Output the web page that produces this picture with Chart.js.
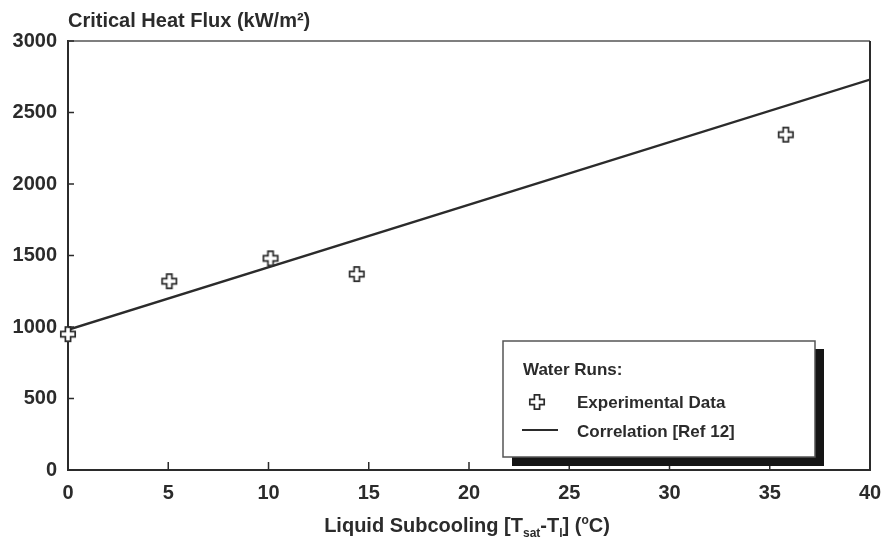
<!DOCTYPE html>
<html>
<head>
<meta charset="utf-8">
<script src="https://cdn.jsdelivr.net/npm/chart.js@4.4.0/dist/chart.umd.min.js"></script>
<style>
  html, body { margin: 0; padding: 0; background: #ffffff; }
  #wrap { width: 882px; height: 546px; position: relative; }
</style>
</head>
<body>
<div id="wrap"><canvas id="c"></canvas></div>
<script>
// ---- data ----
const subcooling = [0, 5.05, 10.1, 14.4, 35.8];       // Liquid subcooling (°C)
const chfMeasured = [950, 1320, 1480, 1370, 2345];    // Experimental CHF (kW/m²)
const corrSubcooling = [0, 40];                       // correlation line ends
const corrCHF = [980, 2730];
const xTickValues = [0, 5, 10, 15, 20, 25, 30, 35, 40];
const yTickValues = [0, 500, 1000, 1500, 2000, 2500, 3000];
const yTitle = 'Critical Heat Flux (kW/m²)';
const legendTitle = 'Water Runs:';
const seriesNames = ['Experimental Data', 'Correlation [Ref 12]'];

const INK = '#2b2b2b';
const FONT = "'Liberation Sans', Arial, sans-serif";

// hollow plus marker
function makePlus() {
  const s = 18, c = document.createElement('canvas');
  c.width = s; c.height = s;
  const g = c.getContext('2d');
  const a = 2.6, L = 7.2, m = s / 2;
  g.beginPath();
  g.moveTo(m - a, m - L); g.lineTo(m + a, m - L); g.lineTo(m + a, m - a);
  g.lineTo(m + L, m - a); g.lineTo(m + L, m + a); g.lineTo(m + a, m + a);
  g.lineTo(m + a, m + L); g.lineTo(m - a, m + L); g.lineTo(m - a, m + a);
  g.lineTo(m - L, m + a); g.lineTo(m - L, m - a); g.lineTo(m - a, m - a);
  g.closePath();
  g.fillStyle = '#ffffff'; g.fill();
  g.lineWidth = 1.7; g.strokeStyle = INK; g.stroke();
  return c;
}
const plusImg = makePlus();

const decor = {
  id: 'decor',
  afterDatasetsDraw(chart) {
    const ctx = chart.ctx, ca = chart.chartArea;
    const xs = chart.scales.x, ys = chart.scales.y;
    ctx.save();
    // top and right frame
    ctx.strokeStyle = '#555'; ctx.lineWidth = 1.5;
    ctx.beginPath();
    ctx.moveTo(ca.left, ca.top); ctx.lineTo(ca.right, ca.top);
    ctx.stroke();
    ctx.strokeStyle = INK; ctx.lineWidth = 2;
    ctx.beginPath();
    ctx.moveTo(ca.right, ca.top); ctx.lineTo(ca.right, ca.bottom);
    ctx.stroke();
    // inward ticks
    ctx.strokeStyle = INK; ctx.lineWidth = 1.5;
    ctx.beginPath();
    xTickValues.forEach(v => {
      const px = xs.getPixelForValue(v);
      ctx.moveTo(px, ca.bottom); ctx.lineTo(px, ca.bottom - 8);
    });
    yTickValues.forEach(v => {
      const py = ys.getPixelForValue(v);
      ctx.moveTo(ca.left, py); ctx.lineTo(ca.left + 6, py);
    });
    ctx.stroke();

    // legend box with shadow
    const L = 503, T = 341, R = 815, B = 457;
    ctx.fillStyle = '#151515';
    ctx.fillRect(815, 349, 9, 117);
    ctx.fillRect(512, 456, 312, 10);
    ctx.fillStyle = '#ffffff';
    ctx.fillRect(L, T, R - L, B - T);
    ctx.strokeStyle = '#555'; ctx.lineWidth = 1.5;
    ctx.strokeRect(L, T, R - L, B - T);
    ctx.fillStyle = INK;
    ctx.textBaseline = 'alphabetic'; ctx.textAlign = 'left';
    ctx.font = 'bold 17px ' + FONT;
    ctx.fillText(legendTitle, 523, 375);
    ctx.drawImage(plusImg, 537 - 9, 402 - 9);
    ctx.fillText(seriesNames[0], 577, 408);
    ctx.strokeStyle = INK; ctx.lineWidth = 2;
    ctx.beginPath(); ctx.moveTo(522, 430); ctx.lineTo(558, 430); ctx.stroke();
    ctx.fillText(seriesNames[1], 577, 437);

    // y title
    ctx.font = 'bold 20px ' + FONT;
    ctx.fillText(yTitle, ca.left, 27);

    // x title with subscripts
    const parts = [
      ['Liquid Subcooling [T', 20, 0],
      ['sat', 12, 5],
      ['-T', 20, 0],
      ['l', 12, 5],
      ['] (', 20, 0],
      ['o', 12, -8],
      ['C)', 20, 0]
    ];
    let total = 0;
    parts.forEach(p => { ctx.font = 'bold ' + p[1] + 'px ' + FONT; total += ctx.measureText(p[0]).width; });
    let x = 467 - total / 2;
    parts.forEach(p => {
      ctx.font = 'bold ' + p[1] + 'px ' + FONT;
      ctx.fillText(p[0], x, 532 + p[2]);
      x += ctx.measureText(p[0]).width;
    });
    ctx.restore();
  }
};

new Chart(document.getElementById('c'), {
  type: 'scatter',
  data: {
    datasets: [
      {
        label: seriesNames[1],
        data: corrSubcooling.map((v, i) => ({ x: v, y: corrCHF[i] })),
        showLine: true,
        borderColor: INK,
        borderWidth: 2.4,
        pointRadius: 0,
        fill: false,
        order: 2
      },
      {
        label: seriesNames[0],
        data: subcooling.map((v, i) => ({ x: v, y: chfMeasured[i] })),
        pointStyle: plusImg,
        pointRadius: 8,
        clip: false,
        order: 1
      }
    ]
  },
  options: {
    responsive: true,
    maintainAspectRatio: false,
    animation: false,
    layout: { padding: { top: 41, right: 0, left: 0, bottom: 0 } },
    plugins: { legend: { display: false }, tooltip: { enabled: false }, title: { display: false } },
    scales: {
      x: {
        type: 'linear', min: 0, max: 40,
        afterBuildTicks: s => { s.ticks = xTickValues.map(v => ({ value: v })); },
        afterFit: s => { s.height = 76; s.paddingRight = 12; s.paddingLeft = 0; },
        grid: { display: false, drawTicks: false },
        border: { display: true, color: INK, width: 2 },
        ticks: { color: INK, padding: 11, font: { family: FONT, size: 20, weight: 'bold' }, maxRotation: 0,
                 callback: v => String(v) }
      },
      y: {
        type: 'linear', min: 0, max: 3000,
        afterBuildTicks: s => { s.ticks = yTickValues.map(v => ({ value: v })); },
        afterFit: s => { s.width = 68; },
        grid: { display: false, drawTicks: false },
        border: { display: true, color: INK, width: 2 },
        ticks: { color: INK, padding: 11, font: { family: FONT, size: 20, weight: 'bold' },
                 callback: v => String(v) }
      }
    }
  },
  plugins: [decor]
});
</script>
</body>
</html>
